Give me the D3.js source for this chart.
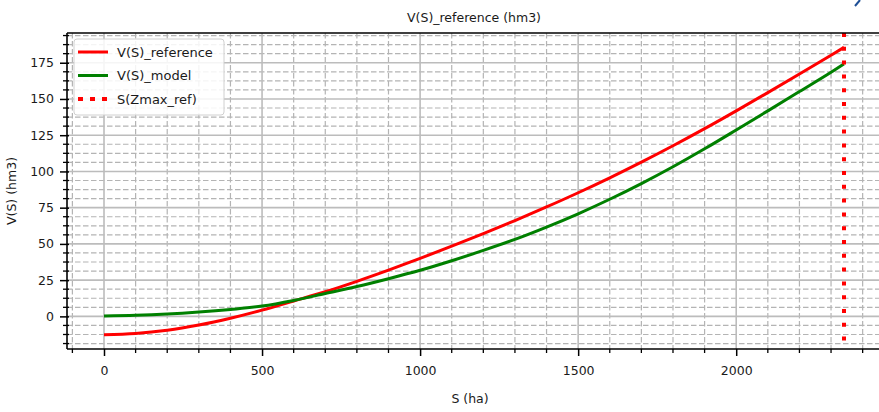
<!DOCTYPE html>
<html>
<head>
<meta charset="utf-8">
<script src="https://cdn.jsdelivr.net/npm/d3@7"></script>
<style>
    body { margin: 0; background: #fff; }
    svg text { font-family: "DejaVu Sans", sans-serif; fill: #1a1a1a; }
</style>
</head>
<body>
<svg id="chart" width="879" height="412"></svg>
<script>
// surface S (ha) sampled along the curve
var sValues = [0, 100, 200, 300, 400, 500, 600, 700, 800, 900, 1000, 1100, 1200,
    1300, 1400, 1500, 1600, 1700, 1800, 1900, 2000, 2100, 2200, 2300, 2341];
// V(S) reference (hm3)
var vReference = [-12.6, -11.8, -9.6, -6.0, -1.3, 4.3, 10.6, 17.0, 24.2, 31.9, 40.0, 48.4, 57.1,
    66.1, 75.5, 85.3, 95.6, 106.4, 117.7, 129.5, 141.8, 154.4, 167.2, 180.2, 185.6];
// V(S) model (hm3)
var vModel = [0.3, 0.7, 1.6, 3.0, 4.8, 7.1, 11.0, 15.8, 20.6, 26.0, 31.8, 38.4, 45.5,
    53.1, 61.6, 70.8, 80.8, 91.6, 103.2, 115.6, 128.6, 141.8, 155.1, 168.4, 174.2];
var sZmaxRef = 2341;

var xTicks = [0, 500, 1000, 1500, 2000];
var yTicks = [0, 25, 50, 75, 100, 125, 150, 175];
var legendLabels = ["V(S)_reference", "V(S)_model", "S(Zmax_ref)"];

var margin = {top: 33, right: -2, bottom: 63, left: 67};
var width = 879, height = 412;
var svg = d3.select("#chart");
var w = width - margin.left - margin.right;
var h = height - margin.top - margin.bottom;

// matplotlib-like 5% margins on the data extent
function padded(ext) {
    var d = (ext[1] - ext[0]) * 0.05;
    return [ext[0] - d, ext[1] + d];
}
var xScale = d3.scaleLinear()
    .domain(padded(d3.extent(sValues.concat([sZmaxRef]))))
    .range([0, w]);
var yScale = d3.scaleLinear()
    .domain(padded(d3.extent(vReference.concat(vModel))))
    .range([h, 0]);

var g = svg.append("g")
    .attr("transform", "translate(" + margin.left + "," + margin.top + ")");

// minor ticks: 5 subdivisions on x (step 500), 4 on y (step 25)
var xMinor = d3.range(-100, xScale.domain()[1], 100).filter(function (d) { return d % 500 !== 0; });
var yMinor = d3.range(-18.75, yScale.domain()[1], 6.25).filter(function (d) { return d % 25 !== 0; });

// grid
var grid = g.append("g");
grid.selectAll(".xminor").data(xMinor).enter().append("line")
    .attr("x1", function (d) { return xScale(d); }).attr("x2", function (d) { return xScale(d); })
    .attr("y1", 0).attr("y2", h)
    .attr("stroke", "#b4b4b4").attr("stroke-width", 1.2).attr("stroke-dasharray", "5.5,2.5");
grid.selectAll(".yminor").data(yMinor).enter().append("line")
    .attr("x1", 0).attr("x2", w)
    .attr("y1", function (d) { return yScale(d); }).attr("y2", function (d) { return yScale(d); })
    .attr("stroke", "#b4b4b4").attr("stroke-width", 1.2).attr("stroke-dasharray", "5.5,2.5");
grid.selectAll(".xmajor").data(xTicks).enter().append("line")
    .attr("x1", function (d) { return xScale(d); }).attr("x2", function (d) { return xScale(d); })
    .attr("y1", 0).attr("y2", h)
    .attr("stroke", "#bcbcbc").attr("stroke-width", 1.6);
grid.selectAll(".ymajor").data(yTicks).enter().append("line")
    .attr("x1", 0).attr("x2", w)
    .attr("y1", function (d) { return yScale(d); }).attr("y2", function (d) { return yScale(d); })
    .attr("stroke", "#bcbcbc").attr("stroke-width", 1.6);

// curves
var line = d3.line()
    .x(function (d) { return xScale(d[0]); })
    .y(function (d) { return yScale(d[1]); })
    .curve(d3.curveMonotoneX);

g.append("path")
    .datum(d3.zip(sValues, vReference))
    .attr("d", line)
    .attr("fill", "none").attr("stroke", "#ff0000").attr("stroke-width", 3);
g.append("path")
    .datum(d3.zip(sValues, vModel))
    .attr("d", line)
    .attr("fill", "none").attr("stroke", "#008000").attr("stroke-width", 3);

// vertical dotted line at S(Zmax_ref)
g.append("line")
    .attr("x1", xScale(sZmaxRef)).attr("x2", xScale(sZmaxRef))
    .attr("y1", 0).attr("y2", h)
    .attr("stroke", "#ff0000").attr("stroke-width", 4).attr("stroke-dasharray", "4,9.8");

// axes
var xAxis = d3.axisBottom(xScale).tickValues(xTicks).tickFormat(d3.format("d")).tickSizeOuter(0).tickSize(7).tickPadding(10);
var yAxis = d3.axisLeft(yScale).tickValues(yTicks).tickFormat(d3.format("d")).tickSizeOuter(0).tickSize(7).tickPadding(6);

var gx = g.append("g").attr("transform", "translate(0," + h + ")").call(xAxis);
var gy = g.append("g").call(yAxis);

gx.selectAll(".xm").data(xMinor).enter().append("line")
    .attr("x1", function (d) { return xScale(d); }).attr("x2", function (d) { return xScale(d); })
    .attr("y1", 0).attr("y2", 4).attr("stroke", "#000").attr("stroke-width", 1.3);
gy.selectAll(".ym").data(yMinor).enter().append("line")
    .attr("y1", function (d) { return yScale(d); }).attr("y2", function (d) { return yScale(d); })
    .attr("x1", -4).attr("x2", 2).attr("stroke", "#000").attr("stroke-width", 1.3);

[gx, gy].forEach(function (ax) {
    ax.select(".domain").remove();
    ax.selectAll(".tick line").attr("stroke", "#000").attr("stroke-width", 1.5);
    ax.selectAll(".tick text").attr("font-size", "12.5px").attr("fill", "#1a1a1a");
});
gy.selectAll(".tick line").attr("x2", 2).attr("x1", -7);

// spines: left, bottom, top (right is outside the picture)
g.append("line").attr("x1", 0).attr("x2", 0).attr("y1", 0).attr("y2", h)
    .attr("stroke", "#000").attr("stroke-width", 1.6);
g.append("line").attr("x1", 0).attr("x2", w).attr("y1", h).attr("y2", h)
    .attr("stroke", "#000").attr("stroke-width", 1.6);
g.append("line").attr("x1", 0).attr("x2", w).attr("y1", 0).attr("y2", 0)
    .attr("stroke", "#000").attr("stroke-width", 1.6);
g.append("line").attr("x1", w).attr("x2", w).attr("y1", 0).attr("y2", h)
    .attr("stroke", "#000").attr("stroke-width", 1.6);

// legend
var legend = g.append("g").attr("transform", "translate(7,6)");
legend.append("rect")
    .attr("width", 150).attr("height", 76).attr("rx", 3)
    .attr("fill", "#fff").attr("fill-opacity", 0.85)
    .attr("stroke", "#d0d0d0").attr("stroke-width", 1);
var legendStyles = [
    {color: "#ff0000", dash: null, width: 3},
    {color: "#008000", dash: null, width: 3},
    {color: "#ff0000", dash: "5,7", width: 4}
];
legendLabels.forEach(function (lab, i) {
    var y = 13 + i * 23.5;
    var ln = legend.append("line")
        .attr("x1", 4).attr("x2", 34).attr("y1", y).attr("y2", y)
        .attr("stroke", legendStyles[i].color).attr("stroke-width", legendStyles[i].width);
    if (legendStyles[i].dash) ln.attr("stroke-dasharray", legendStyles[i].dash);
    legend.append("text").attr("x", 43).attr("y", y).attr("dy", "0.35em")
        .attr("font-size", "13px").text(lab);
});

// titles
svg.append("text").attr("x", 474).attr("y", 22).attr("text-anchor", "middle")
    .attr("font-size", "12.5px").text("V(S)_reference (hm3)");
svg.append("text").attr("x", 470).attr("y", 403).attr("text-anchor", "middle")
    .attr("font-size", "12.5px").text("S (ha)");
svg.append("text").attr("transform", "translate(16," + (margin.top + h / 2) + ") rotate(-90)")
    .attr("text-anchor", "middle").attr("font-size", "12.5px").text("V(S) (hm3)");

// small blue mark cut off at the top right corner
svg.append("path").attr("d", "M860,0 L855,6").attr("stroke", "#1f4f96").attr("stroke-width", 2);
</script>
</body>
</html>
